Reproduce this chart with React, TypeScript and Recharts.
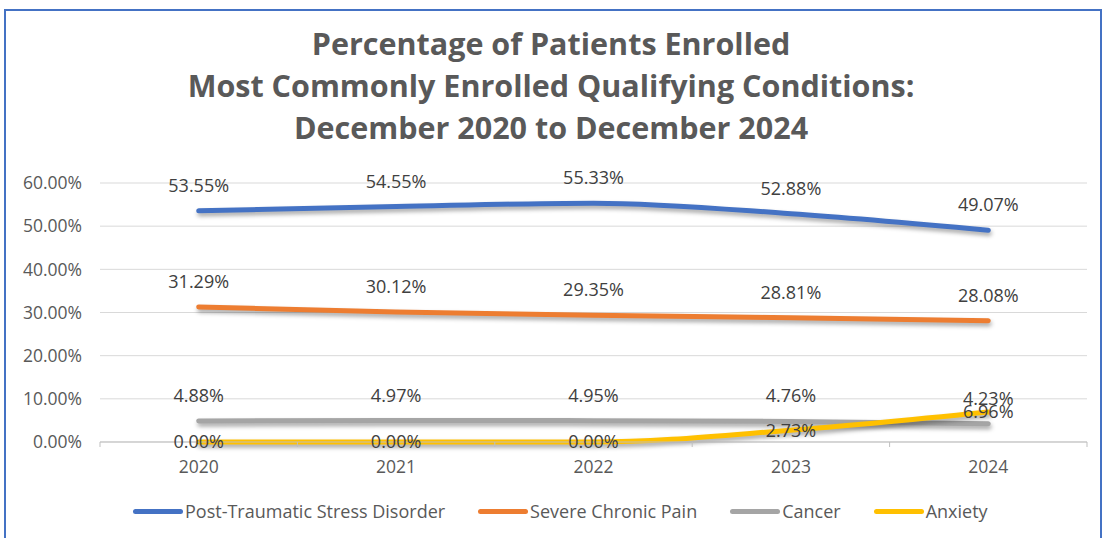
import { LineChart, Line, XAxis, YAxis, CartesianGrid, LabelList } from "recharts";

const years = ["2020", "2021", "2022", "2023", "2024"];
const ptsd = [53.55, 54.55, 55.33, 52.88, 49.07];
const chronicPain = [31.29, 30.12, 29.35, 28.81, 28.08];
const cancer = [4.88, 4.97, 4.95, 4.76, 4.23];
const anxiety = [0, 0, 0, 2.73, 6.96];
const yTicks = [0, 10, 20, 30, 40, 50, 60];

const titleLines = [
  "Percentage of Patients Enrolled",
  "Most Commonly Enrolled Qualifying Conditions:",
  "December 2020 to December 2024",
];

const series = [
  { key: "ptsd", name: "Post-Traumatic Stress Disorder", color: "#4472C4", label: "top" },
  { key: "pain", name: "Severe Chronic Pain", color: "#ED7D31", label: "top" },
  { key: "cancer", name: "Cancer", color: "#A5A5A5", label: "top" },
  { key: "anxiety", name: "Anxiety", color: "#FFC000", label: "center" },
];

const data = years.map((y, i) => ({
  x: i,
  year: y,
  ptsd: ptsd[i],
  pain: chronicPain[i],
  cancer: cancer[i],
  anxiety: anxiety[i],
}));

// ticks at category centres (labels) and at the boundaries between them (tick marks)
const xTicks = [-0.5, 0, 0.5, 1, 1.5, 2, 2.5, 3, 3.5, 4, 4.5];

const FONT = "'Open Sans', sans-serif";
const pct = (v: number) => `${Number(v).toFixed(2)}%`;

function XTick(props: any) {
  const { x, y, payload } = props;
  const v = payload.value;
  if (Number.isInteger(v)) {
    return (
      <text x={x} y={y + 31} textAnchor="middle" fontSize={17.5} fill="#595959" fontFamily={FONT}>
        {years[v]}
      </text>
    );
  }
  return <line x1={x} x2={x} y1={y} y2={y + 5} stroke="#BFBFBF" strokeWidth={1} />;
}

export default function App() {
  return (
    <div style={{ position: "fixed", left: 0, top: 0, width: 1104, height: 538, background: "#fff", overflow: "hidden", fontFamily: FONT }}>
      <style>{`.recharts-line-curve { filter: drop-shadow(1px 3px 2px rgba(0,0,0,0.35)); }`}</style>
      <div style={{ position: "absolute", left: 4, top: 9, width: 1094, height: 540, border: "2px solid #4472C4" }} />
      <div style={{ position: "absolute", left: 0, top: 22, width: 1102, textAlign: "center", color: "#595959", fontWeight: 700, fontSize: 30.5, lineHeight: "42px" }}>
        {titleLines.map((t) => (
          <div key={t}>{t}</div>
        ))}
      </div>
      <div style={{ position: "absolute", left: 0, top: 0 }}>
        <LineChart width={1104} height={538} data={data} margin={{ top: 183, right: 17, bottom: 66, left: 0 }}>
          <CartesianGrid horizontal vertical={false} stroke="#D9D9D9" />
          <XAxis
            dataKey="x"
            type="number"
            domain={[-0.5, 4.5]}
            ticks={xTicks}
            interval={0}
            height={30}
            tickLine={false}
            tickSize={0}
            tickMargin={0}
            axisLine={{ stroke: "#BFBFBF" }}
            tick={<XTick />}
          />
          <YAxis
            domain={[0, 60]}
            ticks={yTicks}
            width={100}
            axisLine={false}
            tickLine={false}
            tickSize={0}
            tickMargin={18}
            tickFormatter={pct}
            tick={{ fontSize: 17.5, fill: "#595959", fontFamily: FONT }}
          />
          {series.map((s) => (
            <Line
              key={s.key}
              dataKey={s.key}
              name={s.name}
              type="monotone"
              stroke={s.color}
              strokeWidth={5}
              strokeLinecap="round"
              dot={false}
              activeDot={false}
              isAnimationActive={false}
            >
              <LabelList
                dataKey={s.key}
                position={s.label as any}
                offset={19}
                formatter={pct}
                style={{ fontSize: 18, fill: "#404040", fontFamily: FONT }}
              />
            </Line>
          ))}
        </LineChart>
      </div>
      <div style={{ position: "absolute", left: 133, top: 499, display: "flex", alignItems: "center", gap: 33, fontSize: 18, color: "#595959" }}>
        {series.map((s) => (
          <div key={s.key} style={{ display: "flex", alignItems: "center" }}>
            <span style={{ display: "inline-block", width: 50, height: 5, borderRadius: 3, background: s.color, marginRight: 2 }} />
            <span>{s.name}</span>
          </div>
        ))}
      </div>
    </div>
  );
}
